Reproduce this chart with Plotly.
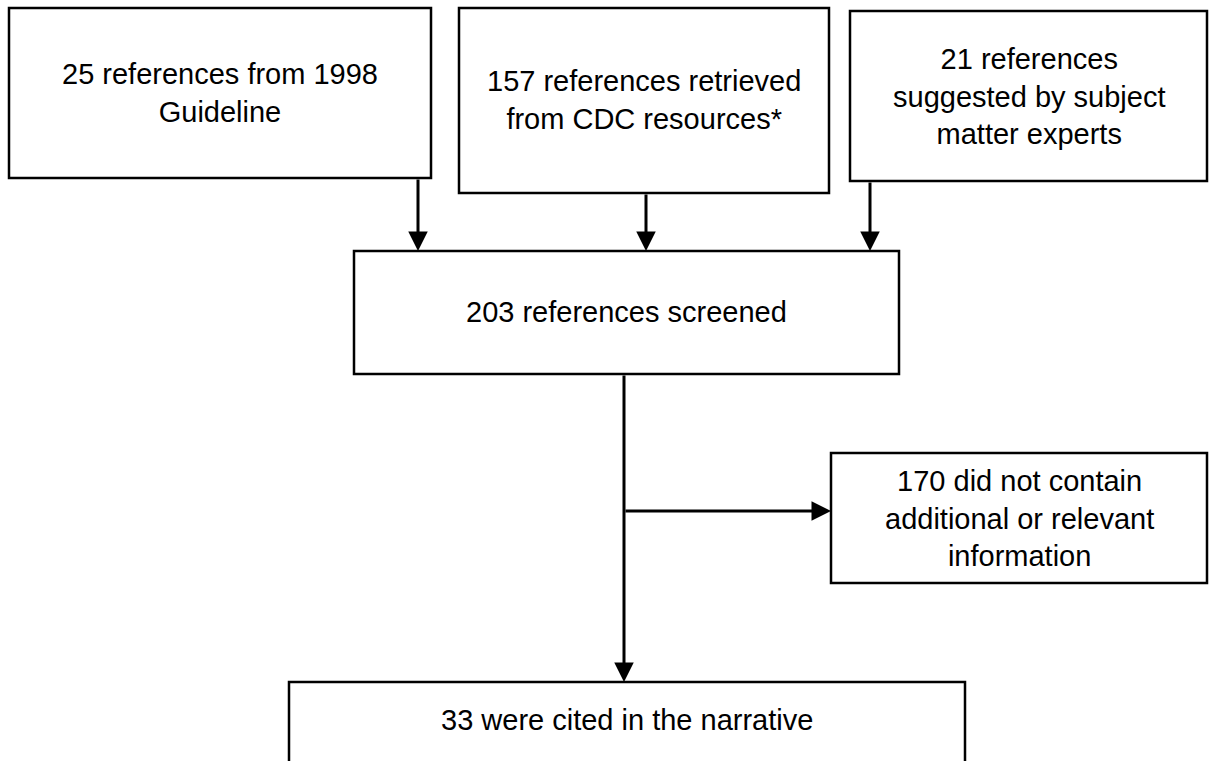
import plotly.graph_objects as go

# ---- data ----
counts = [25, 157, 21, 203, 170, 33]
descriptions = [
    "references from 1998<br>Guideline",
    "references retrieved<br>from CDC resources*",
    "references<br>suggested by subject<br>matter experts",
    "references screened",
    "did not contain<br>additional or relevant<br>information",
    "were cited in the narrative",
]

# ---- layout geometry (pixels, y downward) ----
boxes = [  # x0, y0, x1, y1
    (9, 8, 431, 178),
    (459, 8, 829, 193),
    (850, 11, 1207, 181),
    (354, 251, 899, 374),
    (831, 453, 1207, 583),
    (289, 682, 965, 790),
]
text_y = [93, 100, 96, 312, 518, 720]

W, H = 1225, 761
fig = go.Figure()
fig.add_trace(go.Scatter(x=[0, W], y=[0, H], mode="markers",
                         marker=dict(opacity=0), hoverinfo="skip", showlegend=False))

FONT = dict(family="Liberation Sans, Arial, sans-serif", size=29, color="black")

for (x0, y0, x1, y1), c, d, ty in zip(boxes, counts, descriptions, text_y):
    fig.add_shape(type="rect", x0=x0, y0=y0, x1=x1, y1=y1,
                  line=dict(color="black", width=2.5), fillcolor="white", layer="below")
    fig.add_annotation(x=(x0 + x1) / 2, y=ty, text=f"{c} {d}", showarrow=False,
                       font=FONT, xanchor="center", yanchor="middle", align="center")

def arrow(x_tail, y_tail, x_tip, y_tip):
    fig.add_annotation(x=x_tip, y=y_tip, ax=x_tail, ay=y_tail, axref="x", ayref="y",
                       xref="x", yref="y", text="", showarrow=True,
                       arrowhead=2, arrowsize=1.3, arrowwidth=3, arrowcolor="black",
                       standoff=0, startstandoff=0)

# arrows from top boxes into screening box
arrow(418, boxes[0][3], 418, boxes[3][1])
arrow(646, boxes[1][3], 646, boxes[3][1])
arrow(870, boxes[2][3], 870, boxes[3][1])
# main flow down
arrow(624, boxes[3][3], 624, boxes[5][1])
# exclusion branch
arrow(624, 511, boxes[4][0], 511)

fig.update_layout(
    width=W, height=H, margin=dict(l=0, r=0, t=0, b=0),
    plot_bgcolor="white", paper_bgcolor="white",
    xaxis=dict(range=[0, W], visible=False, fixedrange=True),
    yaxis=dict(range=[H, 0], visible=False, fixedrange=True),
    showlegend=False,
)
fig.write_html("out.html", config={"displayModeBar": False},
               post_script="document.body.style.margin='0px';document.body.style.overflow='hidden';")
